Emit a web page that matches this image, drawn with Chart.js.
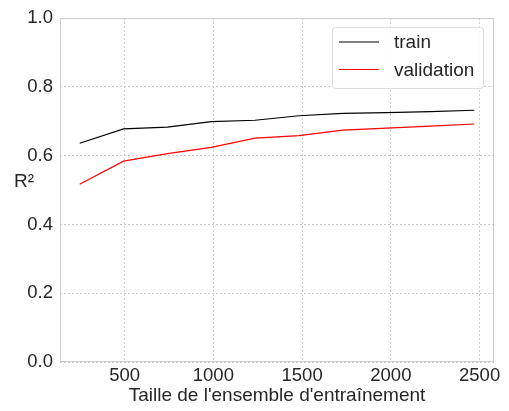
<!DOCTYPE html>
<html>
<head>
<meta charset="utf-8">
<script src="https://cdn.jsdelivr.net/npm/chart.js@4"></script>
<style>
  html, body { margin: 0; padding: 0; background: #fff; }
  #wrap { width: 509px; height: 411px; }
</style>
</head>
<body>
<div id="wrap"><canvas id="lc"></canvas></div>
<script>
// learning curve data
const trainSizes = [247, 494, 741, 988, 1235, 1482, 1729, 1976, 2223, 2470];
const trainScore = [0.636, 0.678, 0.683, 0.699, 0.703, 0.716, 0.723, 0.725, 0.728, 0.732];
const validScore = [0.517, 0.584, 0.606, 0.624, 0.651, 0.658, 0.674, 0.680, 0.686, 0.692];
const xTicks = [500, 1000, 1500, 2000, 2500];
const yTicks = [0, 0.2, 0.4, 0.6, 0.8, 1.0];

const txt = '#262626';
const fontFam = '"Liberation Sans", Arial, sans-serif';

const toPts = (xs, ys) => xs.map((x, i) => ({x: x, y: ys[i]}));

// frame, y label and legend box
const extras = {
  id: 'extras',
  afterDraw(chart) {
    const ctx = chart.ctx, a = chart.chartArea;
    ctx.save();
    ctx.strokeStyle = '#cccccc';
    ctx.lineWidth = 1;
    ctx.strokeRect(a.left + 0.5, a.top + 0.5, a.right - a.left - 1, a.bottom - a.top - 1);

    ctx.fillStyle = txt;
    ctx.font = '19px ' + fontFam;
    ctx.textAlign = 'center';
    ctx.textBaseline = 'alphabetic';
    ctx.fillText('R²', 24, 187);

    // legend
    const bx = 332, by = 27, bw = 151, bh = 61;
    ctx.fillStyle = 'rgba(255,255,255,0.85)';
    ctx.strokeStyle = '#dddddd';
    ctx.beginPath();
    ctx.roundRect(bx + 0.5, by + 0.5, bw, bh, 3);
    ctx.fill();
    ctx.stroke();
    const ds = chart.data.datasets;
    ds.forEach((d, i) => {
      const ly = 42 + i * 27.5;
      ctx.strokeStyle = d.borderColor;
      ctx.lineWidth = 1.2;
      ctx.beginPath();
      ctx.moveTo(339, ly);
      ctx.lineTo(379, ly);
      ctx.stroke();
      ctx.fillStyle = txt;
      ctx.textAlign = 'left';
      ctx.textBaseline = 'middle';
      ctx.fillText(d.label, 394, ly + 1);
    });
    ctx.restore();
  }
};

new Chart(document.getElementById('lc'), {
  type: 'line',
  data: {
    datasets: [{
      label: 'train',
      data: toPts(trainSizes, trainScore),
      borderColor: '#000000',
      borderWidth: 1.2,
      pointRadius: 0,
      tension: 0
    }, {
      label: 'validation',
      data: toPts(trainSizes, validScore),
      borderColor: '#ff0000',
      borderWidth: 1.2,
      pointRadius: 0,
      tension: 0
    }]
  },
  options: {
    responsive: true,
    maintainAspectRatio: false,
    animation: false,
    layout: { padding: { left: 0, right: 15, top: 17, bottom: 0 } },
    plugins: {
      legend: { display: false },
      tooltip: { enabled: false }
    },
    scales: {
      x: {
        type: 'linear',
        min: 136,
        max: 2581,
        afterBuildTicks: s => { s.ticks = xTicks.map(v => ({value: v})); },
        afterFit: s => { s.height = 49; },
        grid: { color: '#c0c0c0', lineWidth: 0.8, drawTicks: false },
        border: { display: false, dash: [2, 2] },
        ticks: {
          color: txt, font: { size: 18.5, family: fontFam }, padding: 3, maxRotation: 0,
          callback: v => String(v)
        },
        title: {
          display: true,
          text: "Taille de l'ensemble d'entraînement",
          color: txt,
          font: { size: 19, family: fontFam },
          padding: { top: 0, bottom: 4 }
        }
      },
      y: {
        min: 0,
        max: 1,
        afterBuildTicks: s => { s.ticks = yTicks.map(v => ({value: v})); },
        afterFit: s => { s.width = 60; },
        grid: { color: '#c0c0c0', lineWidth: 0.8, drawTicks: false },
        border: { display: false, dash: [2, 2] },
        ticks: {
          color: txt,
          font: { size: 18.5, family: fontFam },
          padding: 7,
          callback: v => v.toFixed(1)
        }
      }
    }
  },
  plugins: [extras]
});
</script>
</body>
</html>
